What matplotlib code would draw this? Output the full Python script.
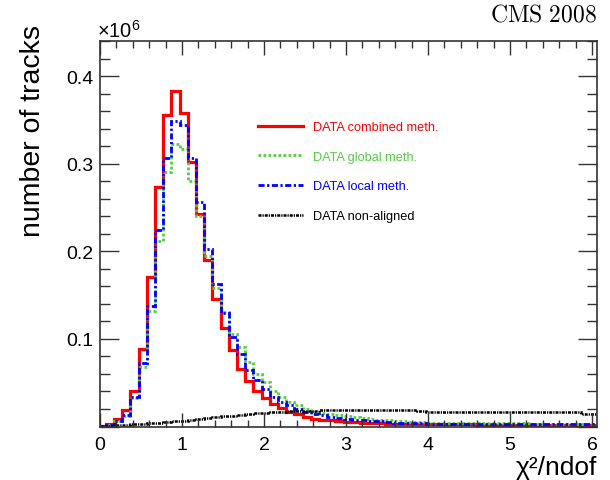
import numpy as np
import matplotlib
matplotlib.use("Agg")
import matplotlib.pyplot as plt
from matplotlib.lines import Line2D
from matplotlib.ticker import MultipleLocator, FuncFormatter

plt.rcParams["font.family"] = ["Liberation Sans", "DejaVu Sans"]
plt.rcParams["mathtext.fontset"] = "custom"
plt.rcParams["mathtext.rm"] = "Liberation Sans"
plt.rcParams["mathtext.it"] = "Liberation Sans:italic"

# chi2/ndof histograms, 0.1 wide bins, values in units of 10^6 tracks
bin_width = 0.1
bin_start = -0.03

combined = [0.001, 0.003, 0.009, 0.019, 0.041, 0.089, 0.171, 0.273, 0.356, 0.383,
            0.358, 0.302, 0.243, 0.190, 0.146, 0.112, 0.087, 0.066, 0.052, 0.041,
            0.032, 0.026, 0.021, 0.017, 0.014, 0.011, 0.009, 0.008, 0.007, 0.006,
            0.0055, 0.005, 0.0045, 0.004, 0.0037, 0.0034, 0.0032, 0.003, 0.0028, 0.0026,
            0.0024, 0.0024, 0.0024, 0.0024, 0.0024, 0.0024, 0.002, 0.002, 0.002, 0.002,
            0.002, 0.002, 0.002, 0.0017, 0.0017, 0.0017, 0.0017, 0.0017, 0.0017, 0.0017,
            0.0017]

global_meth = [0.001, 0.002, 0.006, 0.012, 0.033, 0.068, 0.132, 0.212, 0.290, 0.323,
               0.317, 0.280, 0.240, 0.195, 0.158, 0.131, 0.106, 0.091, 0.074, 0.060,
               0.051, 0.041, 0.034, 0.028, 0.024, 0.020, 0.017, 0.015, 0.014, 0.013,
               0.012, 0.011, 0.010, 0.009, 0.008, 0.007, 0.0065, 0.006, 0.0055, 0.005,
               0.0045, 0.004, 0.004, 0.004, 0.004, 0.004, 0.0035, 0.0035, 0.0035, 0.0035,
               0.0035, 0.0035, 0.0035, 0.003, 0.003, 0.003, 0.003, 0.003, 0.003, 0.003,
               0.003]

local_meth = [0.001, 0.002, 0.006, 0.013, 0.034, 0.072, 0.138, 0.224, 0.306, 0.349,
              0.344, 0.306, 0.256, 0.203, 0.163, 0.130, 0.102, 0.083, 0.064, 0.053,
              0.043, 0.034, 0.028, 0.024, 0.020, 0.017, 0.014, 0.013, 0.011, 0.010,
              0.009, 0.008, 0.007, 0.0065, 0.006, 0.005, 0.0045, 0.004, 0.0038, 0.0035,
              0.003, 0.003, 0.003, 0.003, 0.003, 0.003, 0.003, 0.003, 0.003, 0.0025,
              0.0025, 0.0025, 0.0025, 0.0025, 0.0025, 0.0025, 0.0025, 0.0025, 0.0025, 0.0025,
              0.0025]

non_aligned = [0.0003, 0.0008, 0.0015, 0.002, 0.0025, 0.003, 0.0035, 0.004, 0.005, 0.0058,
               0.0065, 0.0075, 0.0085, 0.0095, 0.0105, 0.0115, 0.0125, 0.0135, 0.0145, 0.015,
               0.0158, 0.0165, 0.017, 0.0175, 0.0178, 0.018, 0.0182, 0.0184, 0.0185, 0.0185,
               0.0186, 0.0186, 0.0186, 0.0186, 0.0186, 0.0186, 0.0186, 0.0186, 0.0186, 0.0175,
               0.017, 0.017, 0.017, 0.017, 0.017, 0.017, 0.017, 0.017, 0.017, 0.017,
               0.017, 0.016, 0.016, 0.016, 0.016, 0.016, 0.016, 0.016, 0.016, 0.014,
               0.014]

labels = ["DATA combined meth.", "DATA global meth.", "DATA local meth.", "DATA non-aligned"]
colors = ["#ff0000", "#55cc44", "#0000ff", "#000000"]

n_bins = len(combined)
edges = bin_start + bin_width * np.arange(n_bins + 1)

fig = plt.figure(figsize=(6.1, 4.81), dpi=100)
ax = fig.add_axes([0.1639, 0.1112, 0.8148, 0.8015])

styles = [
    dict(linestyle="-", linewidth=2.3),
    dict(linestyle=(0, (1.0, 0.8)), linewidth=2.0),
    dict(linestyle=(0, (2.2, 0.9, 0.8, 0.9)), linewidth=2.0),
    dict(linestyle=(0, (1.2, 0.4, 0.5, 0.4)), linewidth=1.8),
]
series = [combined, global_meth, local_meth, non_aligned]

for vals, col, st in zip(series, colors, styles):
    ax.stairs(vals, edges, baseline=None, color=col, **st)

ax.set_xlim(0, 6.06)
ax.set_ylim(0, 0.44)

ax.xaxis.set_major_locator(MultipleLocator(1))
ax.xaxis.set_minor_locator(MultipleLocator(0.2))
ax.yaxis.set_major_locator(MultipleLocator(0.1))
ax.yaxis.set_minor_locator(MultipleLocator(0.02))
ax.yaxis.set_major_formatter(FuncFormatter(lambda v, p: "" if abs(v) < 1e-9 else f"{v:.1f}"))
ax.xaxis.set_major_formatter(FuncFormatter(lambda v, p: f"{v:.0f}"))

ax.tick_params(axis="both", which="both", direction="in", top=True, right=True,
               labelsize=14, width=1, colors="#333333", labelcolor="black")
ax.tick_params(axis="x", which="major", length=10, pad=7)
ax.tick_params(axis="x", which="minor", length=5)
ax.tick_params(axis="y", which="major", length=14, pad=5)
ax.tick_params(axis="y", which="minor", length=7)
for sp in ax.spines.values():
    sp.set_linewidth(1.2)
    sp.set_color("#333333")

fig.text(0.054, 0.728, "number of tracks", fontsize=20.5, rotation=90,
         ha="center", va="center")
ax.set_xlabel("χ²/ndof", fontsize=19, ha="right")
ax.xaxis.set_label_coords(1.0, -0.075)

fig.text(0.159, 0.922, r"$\times10^{6}$", fontsize=14.5, ha="left", va="baseline")
fig.text(0.979, 0.955, r"$\mathrm{CMS\ 2008}$", fontsize=17, ha="right", va="baseline",
         math_fontfamily="cm")

handles = [Line2D([0], [0], color=c, **st) for c, st in zip(colors, styles)]
ax.legend(handles, labels, loc="upper left", bbox_to_anchor=(0.318, 0.792),
          frameon=False, fontsize=9.2, handlelength=3.5, handletextpad=0.8,
          labelspacing=1.38, borderpad=0, borderaxespad=0, labelcolor=colors)

fig.savefig("out.png", dpi=100)
